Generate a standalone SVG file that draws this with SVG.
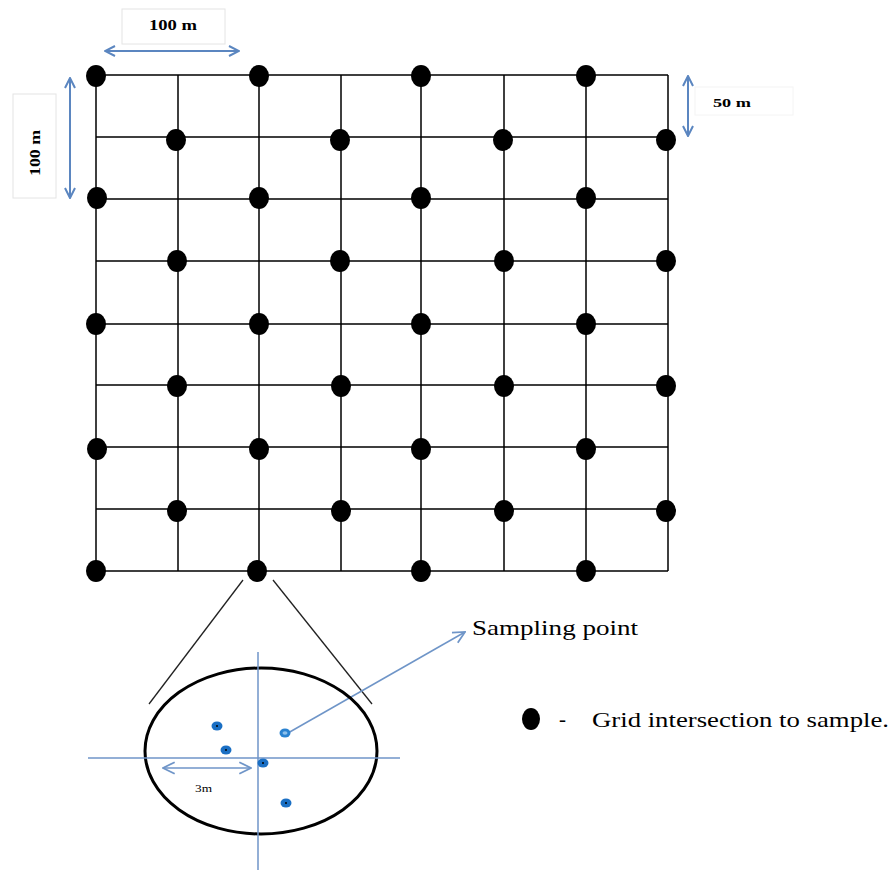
<svg xmlns="http://www.w3.org/2000/svg" width="896" height="870" viewBox="0 0 896 870">
<style>
.g{stroke:#000;stroke-width:1.5;fill:none}
.d{fill:#000}
.b{stroke:#5b86c0;stroke-width:2;fill:none}
.bt{stroke:#6f95c8;stroke-width:1.5;fill:none}
.box{fill:#fff;stroke:#e4e4e4;stroke-width:1}
.t{font-family:"Liberation Serif",serif;fill:#000}
.bd{fill:#1a6fc4}
</style>
<defs>
<marker id="ah" viewBox="0 0 12 12" refX="11" refY="6" markerWidth="12" markerHeight="12" markerUnits="userSpaceOnUse" orient="auto-start-reverse">
<path d="M1,1 L11,6 L1,11" fill="none" stroke="#5b86c0" stroke-width="2"/>
</marker>
<marker id="ahs" viewBox="0 0 12 12" refX="11" refY="6" markerWidth="14" markerHeight="14" markerUnits="userSpaceOnUse" orient="auto-start-reverse">
<path d="M1,1 L11,6 L1,11" fill="none" stroke="#6f95c8" stroke-width="1.5"/>
</marker>
</defs>
<rect width="896" height="870" fill="#fff"/>
<g id="grid">
<path class="g" d="M96,75H668M96,137H668M96,199H668M96,261H668M96,324H668M96,385H668M96,447H668M96,509H668M96,571H668"/>
<path class="g" d="M96,75V571M178,75V571M259,75V571M341,75V571M421,75V571M504,75V571M586,75V571M668,75V571"/>
</g>
<g id="dots">
<g class="d">
<ellipse cx="96" cy="76" rx="10" ry="11"/><ellipse cx="259" cy="76" rx="10" ry="11"/><ellipse cx="421" cy="76" rx="10" ry="11"/><ellipse cx="586" cy="76" rx="10" ry="11"/>
<ellipse cx="176" cy="140" rx="10" ry="11"/><ellipse cx="340" cy="140" rx="10" ry="11"/><ellipse cx="503" cy="140" rx="10" ry="11"/><ellipse cx="666" cy="140" rx="10" ry="11"/>
<ellipse cx="97" cy="198" rx="10" ry="11"/><ellipse cx="259" cy="198" rx="10" ry="11"/><ellipse cx="421" cy="198" rx="10" ry="11"/><ellipse cx="586" cy="198" rx="10" ry="11"/>
<ellipse cx="177" cy="261" rx="10" ry="11"/><ellipse cx="340" cy="261" rx="10" ry="11"/><ellipse cx="504" cy="261" rx="10" ry="11"/><ellipse cx="666" cy="261" rx="10" ry="11"/>
<ellipse cx="96" cy="324" rx="10" ry="11"/><ellipse cx="259" cy="324" rx="10" ry="11"/><ellipse cx="421" cy="324" rx="10" ry="11"/><ellipse cx="586" cy="324" rx="10" ry="11"/>
<ellipse cx="177" cy="386" rx="10" ry="11"/><ellipse cx="341" cy="386" rx="10" ry="11"/><ellipse cx="504" cy="386" rx="10" ry="11"/><ellipse cx="666" cy="386" rx="10" ry="11"/>
<ellipse cx="97" cy="449" rx="10" ry="11"/><ellipse cx="259" cy="449" rx="10" ry="11"/><ellipse cx="421" cy="449" rx="10" ry="11"/><ellipse cx="586" cy="449" rx="10" ry="11"/>
<ellipse cx="177" cy="511" rx="10" ry="11"/><ellipse cx="341" cy="511" rx="10" ry="11"/><ellipse cx="504" cy="511" rx="10" ry="11"/><ellipse cx="666" cy="511" rx="10" ry="11"/>
<ellipse cx="96" cy="571" rx="10" ry="11"/><ellipse cx="257" cy="571" rx="10" ry="11"/><ellipse cx="421" cy="571" rx="10" ry="11"/><ellipse cx="586" cy="571" rx="10" ry="11"/>
</g>
</g>
<g id="label-top">
<rect class="box" x="122" y="9" width="103" height="35"/>
<text class="t" x="149" y="30" font-size="14" font-weight="bold" textLength="48" lengthAdjust="spacingAndGlyphs">100 m</text>
</g>
<g id="label-left">
<rect class="box" x="13" y="94" width="43" height="104"/>
<text class="t" transform="translate(40,176) rotate(-90)" font-size="14" font-weight="bold" textLength="46" lengthAdjust="spacingAndGlyphs">100 m</text>
</g>
<g id="label-right">
<rect x="695" y="87" width="98" height="28" fill="#fff" stroke="#f4f4f4"/>
<text class="t" x="713" y="107" font-size="13" font-weight="bold" textLength="38" lengthAdjust="spacingAndGlyphs">50 m</text>
</g>
<g id="connectors">
<line class="b" x1="105" y1="51" x2="239" y2="51" marker-start="url(#ah)" marker-end="url(#ah)"/>
<line class="b" x1="70" y1="78" x2="70" y2="198" marker-start="url(#ah)" marker-end="url(#ah)"/>
<line class="b" x1="688" y1="76" x2="688" y2="136" marker-start="url(#ah)" marker-end="url(#ah)"/>
<line x1="243" y1="580" x2="149" y2="704" stroke="#222" stroke-width="1.3"/>
<line x1="273" y1="580" x2="372" y2="704" stroke="#222" stroke-width="1.3"/>
<line class="bt" x1="288" y1="733" x2="465" y2="632" marker-end="url(#ahs)"/>
<line class="bt" x1="163" y1="768" x2="251" y2="768" marker-start="url(#ahs)" marker-end="url(#ahs)"/>
</g>
<g id="zoom-circle">
<ellipse cx="261" cy="751" rx="116" ry="83" fill="none" stroke="#000" stroke-width="3"/>
<line class="bt" x1="258" y1="652" x2="258" y2="870"/>
<line class="bt" x1="88" y1="758" x2="400" y2="758"/>
<ellipse class="bd" cx="217" cy="726" rx="5.5" ry="4.5"/><circle cx="217" cy="726" r="1" fill="#000"/>
<ellipse class="bd" cx="226" cy="750" rx="5.5" ry="4.5"/><circle cx="226" cy="750" r="1" fill="#000"/>
<ellipse class="bd" cx="263" cy="763" rx="5.5" ry="4.5"/><circle cx="263" cy="763" r="1" fill="#000"/>
<ellipse cx="285" cy="733" rx="5.5" ry="4.5" fill="#2a82d0"/><ellipse cx="285" cy="733" rx="2.5" ry="1.8" fill="#8cc0ec"/>
<ellipse class="bd" cx="286" cy="803" rx="5.5" ry="4.5"/><circle cx="286" cy="803" r="1" fill="#000"/>
<text class="t" x="195" y="792" font-size="10" textLength="17" lengthAdjust="spacingAndGlyphs">3m</text>
</g>
<g id="sampling-label">
<text class="t" x="472" y="635" font-size="21" textLength="166" lengthAdjust="spacingAndGlyphs">Sampling point</text>
</g>
<g id="legend">
<ellipse class="d" cx="531" cy="719" rx="9" ry="11"/>
<text class="t" x="559" y="726" font-size="21">-</text>
<text class="t" x="592" y="727" font-size="22" textLength="297" lengthAdjust="spacingAndGlyphs">Grid intersection to sample.</text>
</g>
</svg>
